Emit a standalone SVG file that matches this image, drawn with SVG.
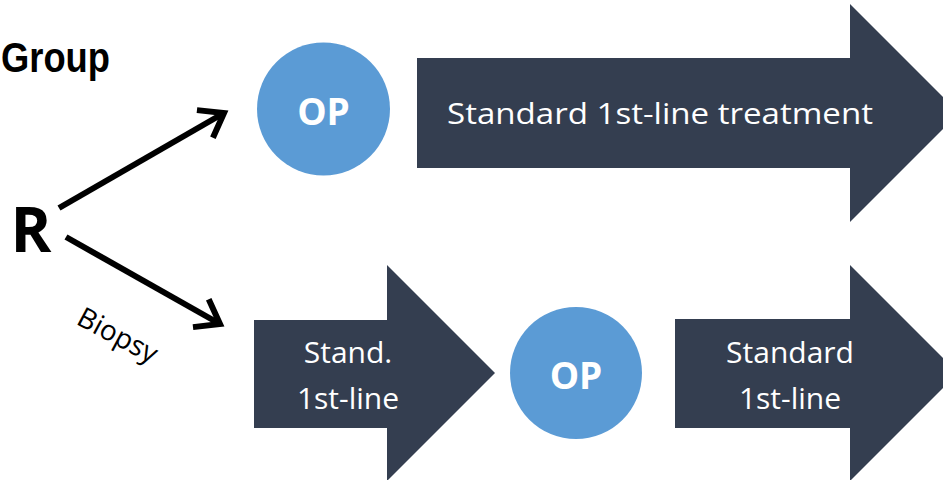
<svg xmlns="http://www.w3.org/2000/svg" width="943" height="480" viewBox="0 0 943 480">
<defs>
<style>
.blk{fill:#343E50}
.circ{fill:#5B9BD5}
.wt{fill:#fff;font-family:"Open Sans","Noto Sans",sans-serif;font-size:30px}
.op{fill:#fff;font-family:"Open Sans","Liberation Sans",sans-serif;font-weight:bold;font-size:37px}
.conn{stroke:#000;stroke-width:6;fill:none;stroke-linecap:butt}
</style>
<marker id="chev" markerUnits="userSpaceOnUse" markerWidth="40" markerHeight="40" refX="30" refY="20" orient="auto" viewBox="0 0 40 40">
<path d="M8,4 L30,20 L8,36" fill="none" stroke="#000" stroke-width="6" stroke-linejoin="miter"/>
</marker>
</defs>
<rect width="943" height="480" fill="#fff"/>
<text x="1" y="72" textLength="109" lengthAdjust="spacingAndGlyphs" font-family="Liberation Sans, Arial, sans-serif" font-weight="bold" font-size="43">Group</text>
<g id="R"><text x="31" y="252" text-anchor="middle" font-family="Open Sans, Liberation Sans, sans-serif" font-weight="bold" font-size="62">R</text></g>
<g id="connectors">
<line class="conn" x1="59" y1="208" x2="224" y2="113" marker-end="url(#chev)"/>
<line class="conn" x1="66" y1="237" x2="220" y2="324" marker-end="url(#chev)"/>
<text x="118" y="345" text-anchor="middle" transform="rotate(28 118 335)" font-family="Open Sans, Noto Sans, sans-serif" font-size="28">Biopsy</text>
</g>
<g id="op1"><circle class="circ" cx="323.5" cy="109" r="66.5"/><text class="op" x="323.5" y="125" text-anchor="middle">OP</text></g>
<g id="arrow1"><path class="blk" d="M417,58 H850 V4 L959,113 L850,222 V168 H417 Z"/><text class="wt" x="660" y="124" text-anchor="middle" textLength="426" lengthAdjust="spacingAndGlyphs">Standard 1st-line  treatment</text></g>
<g id="arrow2"><path class="blk" d="M254,320 H387 V265 L495,373 L387,481 V428 H254 Z"/><text class="wt" x="348" y="363" text-anchor="middle">Stand.</text><text class="wt" x="348" y="409" text-anchor="middle">1st-line</text></g>
<g id="op2"><circle class="circ" cx="576" cy="373" r="66"/><text class="op" x="576" y="389" text-anchor="middle">OP</text></g>
<g id="arrow3"><path class="blk" d="M675,319 H850 V265 L958,373 L850,481 V428 H675 Z"/><text class="wt" x="790" y="363" text-anchor="middle">Standard</text><text class="wt" x="790" y="409" text-anchor="middle">1st-line</text></g>
</svg>
